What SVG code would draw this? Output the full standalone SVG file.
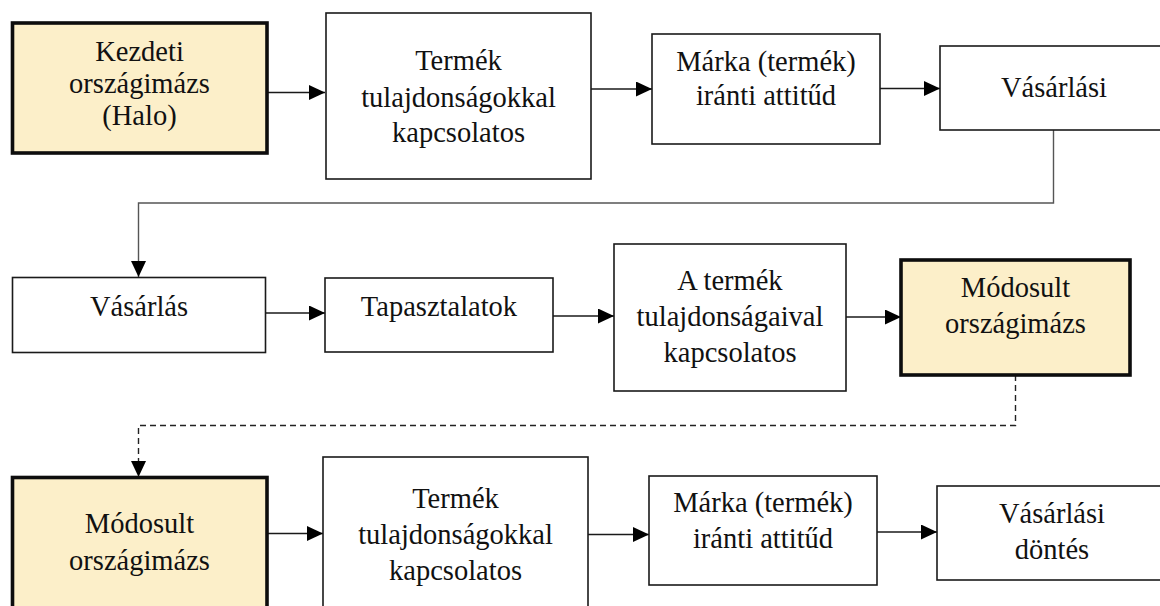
<svg xmlns="http://www.w3.org/2000/svg" width="1160" height="606" viewBox="0 0 1160 606">
<defs>
<marker id="ah" markerWidth="16" markerHeight="15" refX="16" refY="7.5" orient="auto" markerUnits="userSpaceOnUse">
<path d="M0,0 L16,7.5 L0,15 Z" fill="#000"/>
</marker>
<style>
.box{fill:#fff;stroke:#1a1a1a;stroke-width:1.6}
.hl{fill:#FCEFC9;stroke:#0d0d0d;stroke-width:3.6}
text{font-family:"Liberation Serif","Times New Roman",serif;font-size:28.5px;fill:#111;text-anchor:middle}
.c{fill:none;stroke:#1a1a1a;stroke-width:1.4}
.g{fill:none;stroke:#555;stroke-width:1.4}
.d{fill:none;stroke:#222;stroke-width:1.4;stroke-dasharray:6 4}
</style>
</defs>
<rect width="1160" height="606" fill="#fff"/>
<g id="connectors">
<line class="c" x1="267" y1="92.5" x2="325" y2="92.5" marker-end="url(#ah)"/>
<line class="c" x1="591" y1="89" x2="652" y2="89" marker-end="url(#ah)"/>
<line class="c" x1="880" y1="88.5" x2="940" y2="88.5" marker-end="url(#ah)"/>
<polyline class="g" points="1053.5,130 1053.5,203 138.5,203 138.5,277" marker-end="url(#ah)"/>
<line class="c" x1="266" y1="313" x2="325" y2="313" marker-end="url(#ah)"/>
<line class="c" x1="553" y1="316" x2="614" y2="316" marker-end="url(#ah)"/>
<line class="c" x1="846" y1="317" x2="901" y2="317" marker-end="url(#ah)"/>
<polyline class="d" points="1015.5,375 1015.5,425.5 138.5,425.5 138.5,477" marker-end="url(#ah)"/>
<line class="c" x1="267" y1="533.5" x2="323" y2="533.5" marker-end="url(#ah)"/>
<line class="c" x1="588" y1="534.5" x2="649" y2="534.5" marker-end="url(#ah)"/>
<line class="c" x1="877" y1="532" x2="937" y2="532" marker-end="url(#ah)"/>
</g>
<g id="n1"><rect class="hl" x="12.5" y="23" width="254.5" height="130"/>
<text x="139.5" y="61">Kezdeti</text><text x="139.5" y="93">országimázs</text><text x="139.5" y="125">(Halo)</text></g>
<g id="n2"><rect class="box" x="326" y="13" width="265" height="166"/>
<text x="458.5" y="70">Termék</text><text x="458.5" y="107">tulajdonságokkal</text><text x="458.5" y="142">kapcsolatos</text></g>
<g id="n3"><rect class="box" x="652" y="34" width="228" height="110"/>
<text x="766" y="71">Márka (termék)</text><text x="766" y="105">iránti attitűd</text></g>
<g id="n4"><rect class="box" x="940" y="46" width="228" height="84"/>
<text x="1054" y="97">Vásárlási</text></g>
<g id="n5"><rect class="box" x="12.5" y="277.5" width="253" height="75"/>
<text x="139" y="316">Vásárlás</text></g>
<g id="n6"><rect class="box" x="325" y="278" width="228" height="74"/>
<text x="439" y="316">Tapasztalatok</text></g>
<g id="n7"><rect class="box" x="614" y="244" width="232" height="147"/>
<text x="730" y="290">A termék</text><text x="730" y="326">tulajdonságaival</text><text x="730" y="362">kapcsolatos</text></g>
<g id="n8"><rect class="hl" x="901" y="260" width="229" height="115"/>
<text x="1015.5" y="297">Módosult</text><text x="1015.5" y="333">országimázs</text></g>
<g id="n9"><rect class="hl" x="12.5" y="477.5" width="254.5" height="150"/>
<text x="139.5" y="533">Módosult</text><text x="139.5" y="570">országimázs</text></g>
<g id="n10"><rect class="box" x="323" y="457" width="265" height="170"/>
<text x="455.5" y="508">Termék</text><text x="455.5" y="544">tulajdonságokkal</text><text x="455.5" y="580">kapcsolatos</text></g>
<g id="n11"><rect class="box" x="649" y="476" width="228" height="109"/>
<text x="763" y="512">Márka (termék)</text><text x="763" y="548">iránti attitűd</text></g>
<g id="n12"><rect class="box" x="937" y="486" width="230" height="94"/>
<text x="1052" y="523">Vásárlási</text><text x="1052" y="559">döntés</text></g>
</svg>
